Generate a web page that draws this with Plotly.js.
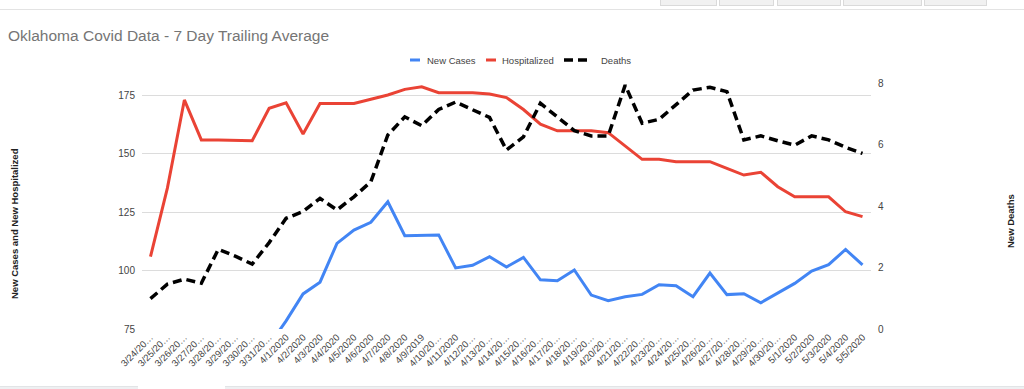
<!DOCTYPE html>
<html>
<head>
<meta charset="utf-8">
<script src="https://cdn.plot.ly/plotly-3.0.1.min.js"></script>
<style>
  html, body { margin: 0; padding: 0; background: #fff; }
  #wrap { position: relative; width: 1024px; height: 389px; overflow: hidden; }
  #chart { position: absolute; left: 0; top: 0; width: 1024px; height: 389px; }
  .chrome { position: absolute; z-index: 5; box-sizing: border-box; }
</style>
</head>
<body>
<div id="wrap">
  <div id="chart"></div>
  <div class="chrome" style="left:0;top:9px;width:1024px;height:1px;background:#e3e3e3;"></div>
  <div class="chrome" style="left:660px;top:-2px;width:57px;height:8px;background:#f1f1f1;border:1px solid #dadada;"></div>
  <div class="chrome" style="left:719px;top:-2px;width:55px;height:8px;background:#f1f1f1;border:1px solid #dadada;"></div>
  <div class="chrome" style="left:777px;top:-2px;width:64px;height:8px;background:#f1f1f1;border:1px solid #dadada;"></div>
  <div class="chrome" style="left:843px;top:-2px;width:79px;height:8px;background:#f1f1f1;border:1px solid #dadada;"></div>
  <div class="chrome" style="left:924px;top:-2px;width:63px;height:8px;background:#f1f1f1;border:1px solid #dadada;"></div>
  <div class="chrome" style="left:0;top:386px;width:1024px;height:3px;background:#eef0f2;border-top:1px solid #e2e4e6;"></div>
  <div class="chrome" style="left:138px;top:386px;width:87px;height:3px;background:#fff;"></div>
</div>
<script>
const dateLabels = [
  "3/24/20…","3/25/20…","3/26/20…","3/27/20…","3/28/20…","3/29/20…","3/30/20…","3/31/20…",
  "4/1/2020","4/2/2020","4/3/2020","4/4/2020","4/5/2020","4/6/2020","4/7/2020","4/8/2020",
  "4/9/2019","4/10/20…","4/11/2020","4/12/20…","4/13/20…","4/14/20…","4/15/20…","4/16/20…",
  "4/17/20…","4/18/20…","4/19/20…","4/20/20…","4/21/20…","4/22/20…","4/23/20…","4/24/20…",
  "4/25/20…","4/26/20…","4/27/20…","4/28/20…","4/29/20…","4/30/20…",
  "5/1/2020","5/2/2020","5/3/2020","5/4/2020","5/5/2020"
];

const newCases = [
  null, null, null, null, null, null, null, 68,
  78.5, 90, 95, 111.6, 117.3, 120.6, 129.4, 114.9,
  115, 115.2, 101.1, 102.2, 105.9, 101.5, 105.6, 96,
  95.6, 100.2, 89.5, 87.1, 88.8, 89.8, 93.9, 93.5,
  88.8, 98.9, 89.7, 90.1, 86.2, 90.2,
  94.5, 99.8, 102.5, 109, 102.4
];

const hospitalized = [
  105.9, 135.3, 172.9, 155.8, 155.8, 155.8, 155.5, 169.3,
  171.7, 158.3, 171.4, 171.4, 171.4, 173.2, 175, 177.4,
  178.5, 176, 176, 176, 175.4, 173.9, 168.8, 162.5,
  159.7, 159.7, 159.7, 158.9, 153.2, 147.5, 147.5, 146.5,
  146.5, 146.5, 143.6, 140.8, 142, 135.8,
  131.5, 131.5, 131.5, 125.1, 123
];

const deaths = [
  0.99, 1.46, 1.62, 1.49, 2.59, 2.37, 2.11, 2.81,
  3.6, 3.82, 4.25, 3.87, 4.3, 4.79, 6.31, 6.9,
  6.61, 7.14, 7.38, 7.14, 6.88, 5.82, 6.25, 7.34,
  6.9, 6.45, 6.28, 6.28, 7.93, 6.69, 6.82, 7.28,
  7.77, 7.86, 7.72, 6.15, 6.28, 6.12,
  5.98, 6.28, 6.15, 5.91, 5.71
];

const leftTicks = [75, 100, 125, 150, 175];
const rightTicks = [0, 2, 4, 6, 8];

const FONT = "Arial, 'Liberation Sans', sans-serif";

const traces = [
  {
    x: dateLabels, y: newCases, name: "New Cases", type: "scatter", mode: "lines",
    line: { color: "#4285F4", width: 3 }, yaxis: "y"
  },
  {
    x: dateLabels, y: hospitalized, name: "Hospitalized", type: "scatter", mode: "lines",
    line: { color: "#EA4335", width: 3 }, yaxis: "y"
  },
  {
    x: dateLabels, y: deaths, name: "Deaths", type: "scatter", mode: "lines",
    line: { color: "#000000", width: 3.5, dash: "9px,5px" }, yaxis: "y2"
  }
];

const layout = {
  width: 1024, height: 389,
  paper_bgcolor: "rgba(0,0,0,0)", plot_bgcolor: "#ffffff",
  margin: { l: 142, r: 153, t: 83, b: 60, pad: 0 },
  font: { family: FONT, size: 10, color: "#444" },
  title: {
    text: "Oklahoma Covid Data - 7 Day Trailing Average",
    font: { family: FONT, size: 15.5, color: "#757575" },
    x: 8 / 1024, xref: "container", xanchor: "left",
    y: 1 - 36 / 389, yref: "container", yanchor: "middle"
  },
  showlegend: true,
  legend: {
    orientation: "h", x: 0.515, xanchor: "center", y: 1.093, yanchor: "middle",
    font: { family: FONT, size: 9.5, color: "#444" },
    itemwidth: 30, bgcolor: "rgba(0,0,0,0)"
  },
  xaxis: {
    type: "category", range: [-0.5, dateLabels.length - 0.5],
    tickmode: "array", tickvals: dateLabels, ticktext: dateLabels,
    tickangle: -45, tickfont: { family: FONT, size: 9.5, color: "#444" },
    showgrid: false, zeroline: false, showline: false, ticks: "",
    automargin: false, fixedrange: true
  },
  yaxis: {
    range: [75, 180.13], tickmode: "array", tickvals: leftTicks,
    showgrid: true, gridcolor: "#dcdcdc", gridwidth: 1, zeroline: false, showline: false,
    ticks: "", ticklabelstandoff: 6, tickfont: { family: FONT, size: 10, color: "#444" },
    automargin: false, fixedrange: true
  },
  yaxis2: {
    overlaying: "y", side: "right", range: [0, 8], tickmode: "array", tickvals: rightTicks,
    showgrid: false, zeroline: false, showline: false, ticks: "",
    ticklabelstandoff: 6, tickfont: { family: FONT, size: 10, color: "#444" },
    automargin: false, fixedrange: true
  },
  annotations: [
    {
      text: "<b>New Cases and New Hospitalized</b>", textangle: -90,
      xref: "paper", yref: "paper", x: (14 - 142) / 729, y: (329 - 224) / 246,
      xanchor: "center", yanchor: "middle", showarrow: false,
      font: { family: FONT, size: 9.5, color: "#222" }
    },
    {
      text: "<b>New Deaths</b>", textangle: -90,
      xref: "paper", yref: "paper", x: (1010 - 142) / 729, y: (329 - 221) / 246,
      xanchor: "center", yanchor: "middle", showarrow: false,
      font: { family: FONT, size: 9.5, color: "#222" }
    }
  ],
  hovermode: false
};

// Google-Charts-like compact legend: short symbols, tighter spacing
const legendTextLeft = { "New Cases": 427, "Hospitalized": 502, "Deaths": 601 };
const legendSymbolWidth = { "New Cases": 10, "Hospitalized": 10, "Deaths": 28 };
const legendSymbolGap = { "New Cases": 7, "Hospitalized": 6, "Deaths": 9 };

function tweakLegend(gd) {
  gd.querySelectorAll(".legend .traces").forEach(function (item) {
    const txt = item.querySelector("text.legendtext");
    if (!txt) return;
    const name = txt.textContent;
    if (!(name in legendTextLeft)) return;
    const rect = txt.getBoundingClientRect();
    const dx = legendTextLeft[name] - rect.left;
    const t = item.getAttribute("transform") || "translate(0,0)";
    const m = /translate\(\s*([-\d.e]+)[\s,]*([-\d.e]+)?\s*\)/.exec(t);
    const x0 = m ? parseFloat(m[1]) : 0;
    const y0 = m && m[2] ? parseFloat(m[2]) : 0;
    item.setAttribute("transform", "translate(" + (x0 + dx) + "," + y0 + ")");
    const textX = parseFloat(txt.getAttribute("x")) || 40;
    const line = item.querySelector("path.js-line");
    if (line) {
      const w = legendSymbolWidth[name];
      line.setAttribute("d", "M" + (textX - legendSymbolGap[name] - w) + ",0h" + w);
    }
  });
}

Plotly.newPlot("chart", traces, layout, { displayModeBar: false, staticPlot: true })
  .then(function (gd) { tweakLegend(gd); });
</script>
</body>
</html>
